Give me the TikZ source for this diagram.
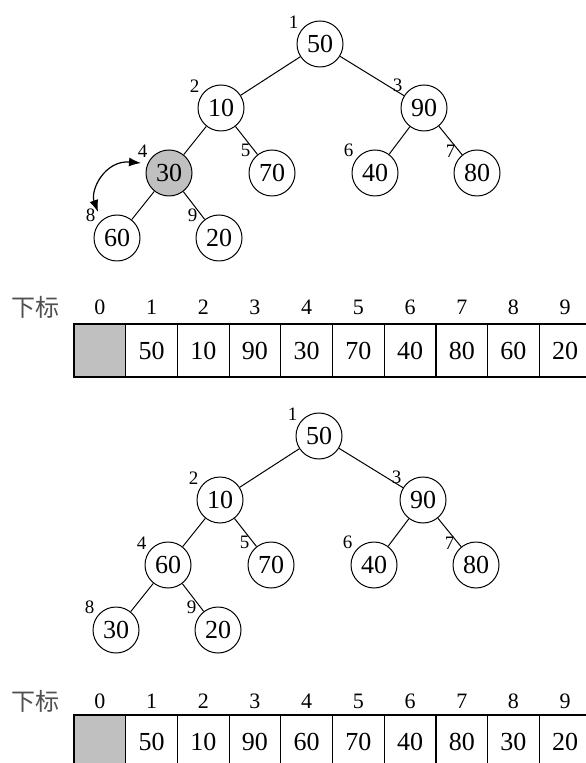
\documentclass[tikz,border=0pt]{standalone}
\usepackage{fontspec}
\setmainfont{Liberation Serif}
\newfontfamily\cjkfont{Noto Sans CJK SC}
\usetikzlibrary{positioning, calc, arrows.meta}
\definecolor{Cell}{HTML}{C0C0C0}
\definecolor{Ink}{HTML}{505050}

\begin{document}
\begin{tikzpicture}[x=0.5pt, y=-0.5pt]
    % Stili
    \tikzset{
        heapnode/.style={circle, draw, line width=0.5pt, minimum size=23pt, inner sep=0pt, font=\fontsize{13}{14}\selectfont},
        hotnode/.style={heapnode, fill=Cell},
        idxtag/.style={font=\fontsize{9.5}{10}\selectfont, inner sep=1pt},
        treeline/.style={line width=0.5pt},
        cellbox/.style={rectangle, draw, line width=0.6pt, minimum width=25.85pt, minimum height=26.5pt, inner sep=0pt, font=\fontsize{13}{14}\selectfont},
        subscript/.style={font=\fontsize{11}{12}\selectfont, inner sep=0pt},
        cjktag/.style={font=\cjkfont\fontsize{12}{13}\selectfont, text=Ink, inner sep=0pt},
        swaparrow/.style={arrows={Latex[length=6pt, width=4.5pt]-Latex[length=6pt, width=4.5pt]}, line width=0.6pt},
    }

    \useasboundingbox (0,0) rectangle (585,763);

    % --- 1. ALBERO PRIMA ---
    \node[heapnode, label={[idxtag]145:1}] (a1) at (320,44) {50};
    \node[heapnode, label={[idxtag]145:2}] (a2) at (221,108) {10};
    \node[heapnode, label={[idxtag]145:3}] (a3) at (424,108) {90};
    \node[hotnode,  label={[idxtag]145:4}] (a4) at (169,173) {30};
    \node[heapnode, label={[idxtag]145:5}] (a5) at (272,173) {70};
    \node[heapnode, label={[idxtag]145:6}] (a6) at (375,173) {40};
    \node[heapnode, label={[idxtag]145:7}] (a7) at (477,173) {80};
    \node[heapnode, label={[idxtag]145:8}] (a8) at (117,238) {60};
    \node[heapnode, label={[idxtag]145:9}] (a9) at (219,238) {20};

    \foreach \p/\c in {1/2, 1/3, 2/4, 2/5, 3/6, 3/7, 4/8, 4/9}
        \draw[treeline] (a\p) -- (a\c);

    % Scambio 4 <-> 8
    \coordinate (s4) at ([shift={(-28,-10)}]a4.center);
    \coordinate (s8) at ([shift={(-19,-26)}]a8.center);
    \draw[swaparrow] (s4) .. controls +(-36,-3) and +(-8,-22) .. (s8);

    % --- 1. ARRAY ---
    \node[cjktag] (t1) at (35,307) {下标};
    \node[cellbox, fill=Cell] (c10) at (99.85,350.5) {};
    \node[subscript] (i10) at (99.85,307) {0};
    \foreach \i/\v in {1/50, 2/10, 3/90, 4/30, 5/70, 6/40, 7/80, 8/60, 9/20} {
        \node[cellbox] (c1\i) at ({99.85+51.7*\i}, 350.5) {\v};
        \node[subscript] (i1\i) at ({99.85+51.7*\i}, 307) {\i};
    }

    % --- 2. ALBERO DOPO ---
    \begin{scope}[shift={(-1,392)}]
        \node[heapnode, label={[idxtag]145:1}] (b1) at (320,44) {50};
        \node[heapnode, label={[idxtag]145:2}] (b2) at (221,108) {10};
        \node[heapnode, label={[idxtag]145:3}] (b3) at (424,108) {90};
        \node[heapnode, label={[idxtag]145:4}] (b4) at (169,173) {60};
        \node[heapnode, label={[idxtag]145:5}] (b5) at (272,173) {70};
        \node[heapnode, label={[idxtag]145:6}] (b6) at (375,173) {40};
        \node[heapnode, label={[idxtag]145:7}] (b7) at (477,173) {80};
        \node[heapnode, label={[idxtag]145:8}] (b8) at (117,238) {30};
        \node[heapnode, label={[idxtag]145:9}] (b9) at (219,238) {20};

        \foreach \p/\c in {1/2, 1/3, 2/4, 2/5, 3/6, 3/7, 4/8, 4/9}
            \draw[treeline] (b\p) -- (b\c);
    \end{scope}

    % --- 2. ARRAY ---
    \node[cjktag] (t2) at (35,701) {下标};
    \node[cellbox, fill=Cell] (c20) at (99.85,741.5) {};
    \node[subscript] (i20) at (99.85,701) {0};
    \foreach \i/\v in {1/50, 2/10, 3/90, 4/60, 5/70, 6/40, 7/80, 8/30, 9/20} {
        \node[cellbox] (c2\i) at ({99.85+51.7*\i}, 741.5) {\v};
        \node[subscript] (i2\i) at ({99.85+51.7*\i}, 701) {\i};
    }
\end{tikzpicture}
\end{document}
